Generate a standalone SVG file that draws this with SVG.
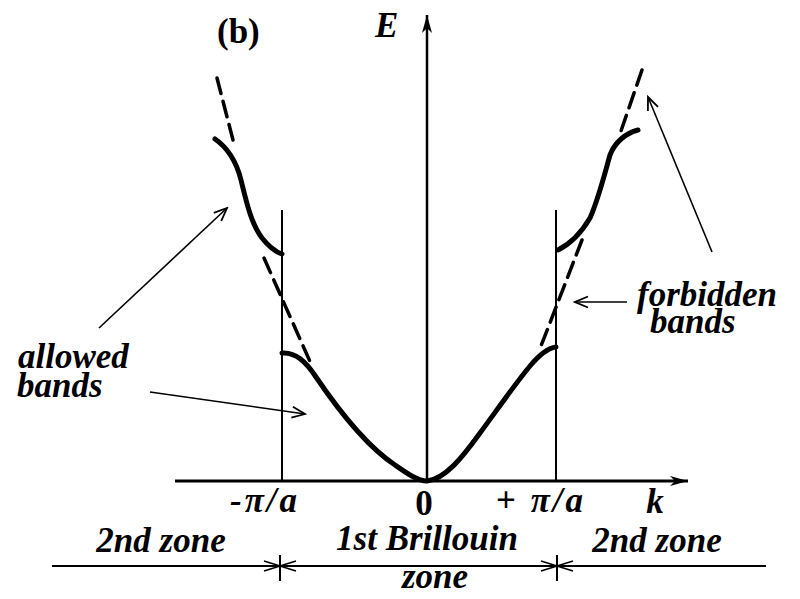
<svg xmlns="http://www.w3.org/2000/svg" width="800" height="599" viewBox="0 0 800 599">
<style>
.t{font-family:"Liberation Serif","Times New Roman",serif;font-weight:bold;font-style:italic;font-size:35px;fill:#000}
.up{font-style:normal}
.pi{letter-spacing:3px}
.band{fill:none;stroke:#000;stroke-width:5;stroke-linecap:round;stroke-linejoin:round}
.dash{fill:none;stroke:#000;stroke-width:3.5;stroke-dasharray:16 8;stroke-linecap:round}
.thin{fill:none;stroke:#000;stroke-width:1.6}
.ax{fill:none;stroke:#000}
</style>
<defs>
<marker id="open" markerWidth="16" markerHeight="14" refX="14" refY="7" orient="auto" markerUnits="userSpaceOnUse">
<path d="M1,1.5 L14,7 L1,12.5" fill="none" stroke="#000" stroke-width="1.8"/>
</marker>
<marker id="axh" markerWidth="20" markerHeight="12" refX="18" refY="6" orient="auto" markerUnits="userSpaceOnUse">
<path d="M0,1 L18,6 L0,11 L5,6 z" fill="#000"/>
</marker>
</defs>
<rect width="800" height="599" fill="#fff"/>
<g id="axes">
<line class="ax" x1="175" y1="481" x2="688" y2="481" stroke-width="3" marker-end="url(#axh)"/>
<line class="ax" x1="427" y1="481" x2="427" y2="15" stroke-width="2.5" marker-end="url(#axh)"/>
<line class="ax" x1="282" y1="210" x2="282" y2="481" stroke-width="2"/>
<line class="ax" x1="556" y1="210" x2="556" y2="481" stroke-width="2"/>
</g>
<g id="bands">
<path class="band" d="M282,353 C296,352 306,362 316,377 C337,408 365,445 395,465 C408,474 418,481 427,481 C445,479 462,458 480,433 C497,410 515,384 530,366 C540,354 548,348 556,347"/>
<path class="band" d="M215,139 C228,148 236,160 241,180 C247,205 252,225 262,238 C270,248 276,252 282,254"/>
<path class="band" d="M558,250 C568,245 580,235 590,218 C598,200 603,180 610,155 C615,142 626,133 638,130"/>
</g>
<g id="free-electron">
<path class="dash" d="M217,78 L233,140"/>
<path class="dash" d="M264,258 L312,366"/>
<path class="dash" d="M582,240 L541,346"/>
<path class="dash" d="M642,70 L621,131"/>
</g>
<g id="connectors">
<line class="thin" x1="99" y1="328" x2="227" y2="208" marker-end="url(#open)"/>
<line class="thin" x1="150" y1="392" x2="305" y2="414" marker-end="url(#open)"/>
<line class="thin" x1="627" y1="302" x2="575" y2="302" marker-end="url(#open)"/>
<line class="thin" x1="712" y1="252" x2="648" y2="97" marker-end="url(#open)"/>
</g>
<g id="zones">
<line class="ax" x1="52" y1="566" x2="766" y2="566" stroke-width="2"/>
<line class="ax" x1="280" y1="555" x2="280" y2="581" stroke-width="2"/>
<line class="ax" x1="557" y1="555" x2="557" y2="581" stroke-width="2"/>
<path class="thin" d="M264,561 L280,566 L264,571 M296,561 L280,566 L296,571"/>
<path class="thin" d="M541,561 L557,566 L541,571 M573,561 L557,566 L573,571"/>
</g>
<g id="labels">
<text class="t up" x="217" y="43">(b)</text>
<text class="t" x="375" y="37">E</text>
<text class="t" x="18" y="368">allowed</text>
<text class="t" x="17" y="397">bands</text>
<text class="t" x="637" y="306">forbidden</text>
<text class="t" x="650" y="333">bands</text>
<text class="t pi" x="265" y="512" text-anchor="middle">-π/a</text>
<text class="t up" x="424" y="515" text-anchor="middle">0</text>
<text class="t pi" x="541" y="512" text-anchor="middle"><tspan class="up">+ </tspan>π/a</text>
<text class="t" x="655" y="513" text-anchor="middle">k</text>
<text class="t" x="161" y="552" text-anchor="middle">2nd zone</text>
<text class="t" x="427" y="550" text-anchor="middle">1st Brillouin</text>
<text class="t" x="435" y="588" text-anchor="middle">zone</text>
<text class="t" x="657" y="552" text-anchor="middle">2nd zone</text>
</g>
</svg>
